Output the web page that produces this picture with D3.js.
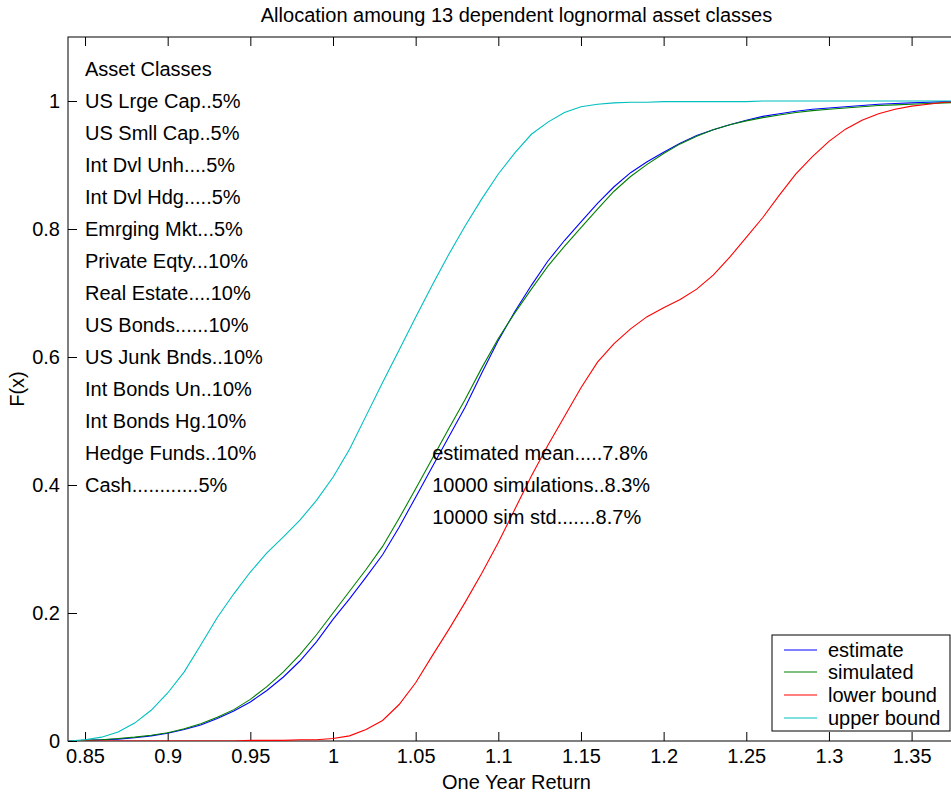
<!DOCTYPE html>
<html>
<head>
<meta charset="utf-8">
<script src="https://cdn.jsdelivr.net/npm/d3@7"></script>
<style>
  html, body { margin: 0; padding: 0; background: #fff; }
  svg { display: block; }
  text { font-family: "Liberation Sans", Arial, Helvetica, sans-serif; font-size: 20px; fill: #000; }
</style>
</head>
<body>
<svg id="chart" width="951" height="793"></svg>
<script>
// ---------- data ----------
const titleText = "Allocation amoung 13 dependent lognormal asset classes";
const xLabelText = "One Year Return";
const yLabelText = "F(x)";

const xTicks = [0.85, 0.9, 0.95, 1, 1.05, 1.1, 1.15, 1.2, 1.25, 1.3, 1.35];
const xTickLabels = ["0.85", "0.9", "0.95", "1", "1.05", "1.1", "1.15", "1.2", "1.25", "1.3", "1.35"];
const yTicks = [0, 0.2, 0.4, 0.6, 0.8, 1];
const yTickLabels = ["0", "0.2", "0.4", "0.6", "0.8", "1"];

const returns = [0.84, 0.85, 0.86, 0.87, 0.88, 0.89, 0.90, 0.91, 0.92, 0.93, 0.94,
  0.95, 0.96, 0.97, 0.98, 0.99, 1.00, 1.01, 1.02, 1.03, 1.04, 1.05, 1.06, 1.07, 1.08,
  1.09, 1.10, 1.11, 1.12, 1.13, 1.14, 1.15, 1.16, 1.17, 1.18, 1.19, 1.20, 1.21, 1.22,
  1.23, 1.24, 1.25, 1.26, 1.27, 1.28, 1.29, 1.30, 1.31, 1.32, 1.33, 1.34, 1.35, 1.36,
  1.37, 1.38];

const estimate = [0.000, 0.001, 0.002, 0.003, 0.005, 0.008, 0.012, 0.018, 0.025, 0.035, 0.047,
  0.061, 0.079, 0.100, 0.125, 0.155, 0.190, 0.222, 0.256, 0.291, 0.334, 0.381, 0.428, 0.475, 0.522,
  0.575, 0.626, 0.671, 0.712, 0.750, 0.782, 0.811, 0.840, 0.866, 0.888, 0.905, 0.920, 0.934, 0.946,
  0.955, 0.963, 0.970, 0.976, 0.980, 0.984, 0.987, 0.989, 0.991, 0.993, 0.995, 0.996, 0.997, 0.998,
  0.999, 0.999];

const simulated = [0.000, 0.001, 0.002, 0.004, 0.006, 0.009, 0.013, 0.019, 0.027, 0.037, 0.049,
  0.065, 0.085, 0.108, 0.135, 0.166, 0.200, 0.234, 0.268, 0.304, 0.348, 0.394, 0.441, 0.488, 0.534,
  0.583, 0.629, 0.669, 0.706, 0.742, 0.773, 0.802, 0.831, 0.859, 0.882, 0.901, 0.918, 0.933, 0.945,
  0.955, 0.963, 0.969, 0.974, 0.978, 0.982, 0.985, 0.987, 0.989, 0.991, 0.993, 0.994, 0.995, 0.996,
  0.997, 0.998];

const lowerBound = [0.000, 0.000, 0.000, 0.000, 0.000, 0.000, 0.000, 0.000, 0.000, 0.000, 0.000,
  0.001, 0.001, 0.001, 0.002, 0.002, 0.004, 0.008, 0.018, 0.032, 0.057, 0.091, 0.133, 0.174, 0.217,
  0.262, 0.310, 0.362, 0.414, 0.462, 0.507, 0.552, 0.592, 0.621, 0.644, 0.663, 0.677, 0.690, 0.706,
  0.728, 0.756, 0.787, 0.818, 0.853, 0.886, 0.913, 0.937, 0.956, 0.970, 0.980, 0.987, 0.992, 0.995,
  0.998, 0.999];

const upperBound = [0.000, 0.002, 0.006, 0.014, 0.028, 0.048, 0.075, 0.108, 0.150, 0.193, 0.230,
  0.264, 0.294, 0.319, 0.345, 0.376, 0.412, 0.456, 0.508, 0.560, 0.611, 0.662, 0.712, 0.760, 0.805,
  0.847, 0.886, 0.919, 0.948, 0.967, 0.982, 0.991, 0.995, 0.997, 0.998, 0.998, 0.999, 0.999, 0.999,
  0.999, 0.999, 0.999, 1.000, 1.000, 1.000, 1.000, 1.000, 1.000, 1.000, 1.000, 1.000, 1.000, 1.000,
  1.000, 1.000];

const seriesNames = ["estimate", "simulated", "lower bound", "upper bound"];
const seriesColors = ["#0000ff", "#008000", "#ff0000", "#00bfbf"];

const assetLabels = ["Asset Classes", "US Lrge Cap..5%", "US Smll Cap..5%", "Int Dvl Unh....5%",
  "Int Dvl Hdg.....5%", "Emrging Mkt...5%", "Private Eqty...10%", "Real Estate....10%",
  "US Bonds......10%", "US Junk Bnds..10%", "Int Bonds Un..10%", "Int Bonds Hg.10%",
  "Hedge Funds..10%", "Cash............5%"];
const assetLabelX = 0.85;
const assetLabelY = [1.05, 1.0, 0.95, 0.9, 0.85, 0.8, 0.75, 0.7, 0.65, 0.6, 0.55, 0.5, 0.45, 0.4];

const statLabels = ["estimated mean.....7.8%", "10000 simulations..8.3%", "10000 sim std.......8.7%"];
const statLabelX = 1.06;
const statLabelY = [0.45, 0.4, 0.35];

// ---------- drawing ----------
(function () {
  const svg = d3.select("#chart");
  const pL = 68, pR = 965, pT = 37, pB = 741;
  const tickLen = 9;

  const x = d3.scaleLinear().domain([0.8397, 1.3823]).range([pL, pR]);
  const y = d3.scaleLinear().domain([0, 1.1]).range([pB, pT]);

  svg.append("defs").append("clipPath").attr("id", "plotclip")
    .append("rect").attr("x", pL).attr("y", pT).attr("width", pR - pL).attr("height", pB - pT);

  const g = svg.append("g");

  const xAxisBottom = d3.axisBottom(x).tickValues(xTicks).tickSizeInner(-tickLen).tickSizeOuter(0)
    .tickPadding(8).tickFormat((d, i) => xTickLabels[i]);
  const gxb = g.append("g").attr("transform", `translate(0,${pB})`).call(xAxisBottom);
  gxb.select(".domain").remove();
  gxb.selectAll("text").style("font-size", "20px").attr("fill", "#000");

  const xAxisTop = d3.axisTop(x).tickValues(xTicks).tickSizeInner(-tickLen).tickSizeOuter(0).tickFormat("");
  const gxt = g.append("g").attr("transform", `translate(0,${pT})`).call(xAxisTop);
  gxt.select(".domain").remove();

  const yAxisLeft = d3.axisLeft(y).tickValues(yTicks).tickSizeInner(-tickLen).tickSizeOuter(0)
    .tickPadding(8).tickFormat((d, i) => yTickLabels[i]);
  const gyl = g.append("g").attr("transform", `translate(${pL},0)`).call(yAxisLeft);
  gyl.select(".domain").remove();
  gyl.selectAll("text").style("font-size", "20px").attr("fill", "#000");

  const yAxisRight = d3.axisRight(y).tickValues(yTicks).tickSizeInner(-tickLen).tickSizeOuter(0).tickFormat("");
  const gyr = g.append("g").attr("transform", `translate(${pR},0)`).call(yAxisRight);
  gyr.select(".domain").remove();

  g.selectAll(".tick line").attr("stroke", "#000").attr("stroke-width", 1);

  g.append("rect").attr("x", pL).attr("y", pT).attr("width", pR - pL).attr("height", pB - pT)
    .attr("fill", "none").attr("stroke", "#000").attr("stroke-width", 1);

  const allSeries = [estimate, simulated, lowerBound, upperBound];
  const line = d3.line().x(d => x(d[0])).y(d => y(d[1]));
  const lines = svg.append("g").attr("clip-path", "url(#plotclip)");
  allSeries.forEach((vals, k) => {
    lines.append("path")
      .datum(returns.map((r, i) => [r, vals[i]]))
      .attr("d", line)
      .attr("fill", "none")
      .attr("stroke", seriesColors[k])
      .attr("stroke-width", 1.1);
  });

  svg.append("g").selectAll("text").data(assetLabels).join("text")
    .attr("x", x(assetLabelX)).attr("y", (d, i) => y(assetLabelY[i])).attr("dy", "0.35em")
    .text(d => d);

  svg.append("g").selectAll("text").data(statLabels).join("text")
    .attr("x", x(statLabelX)).attr("y", (d, i) => y(statLabelY[i])).attr("dy", "0.35em")
    .text(d => d);

  svg.append("text").attr("x", (pL + pR) / 2).attr("y", 22).attr("text-anchor", "middle").text(titleText);
  svg.append("text").attr("x", (pL + pR) / 2).attr("y", 789).attr("text-anchor", "middle").text(xLabelText);
  svg.append("text").attr("transform", `translate(24,${(pT + pB) / 2}) rotate(-90)`)
    .attr("text-anchor", "middle").text(yLabelText);

  const lg = svg.append("g");
  const lx = 772, ly = 635, lw = 178, lh = 96;
  lg.append("rect").attr("x", lx).attr("y", ly).attr("width", lw).attr("height", lh)
    .attr("fill", "#fff").attr("stroke", "#000").attr("stroke-width", 1);
  seriesNames.forEach((name, k) => {
    const cy = Math.round(ly + 14.5 + k * 22.7);
    lg.append("line").attr("x1", lx + 12).attr("x2", lx + 45).attr("y1", cy).attr("y2", cy)
      .attr("stroke", seriesColors[k]).attr("stroke-width", 1.1);
    lg.append("text").attr("x", lx + 56).attr("y", cy).attr("dy", "0.35em").text(name);
  });
})();
</script>
</body>
</html>
